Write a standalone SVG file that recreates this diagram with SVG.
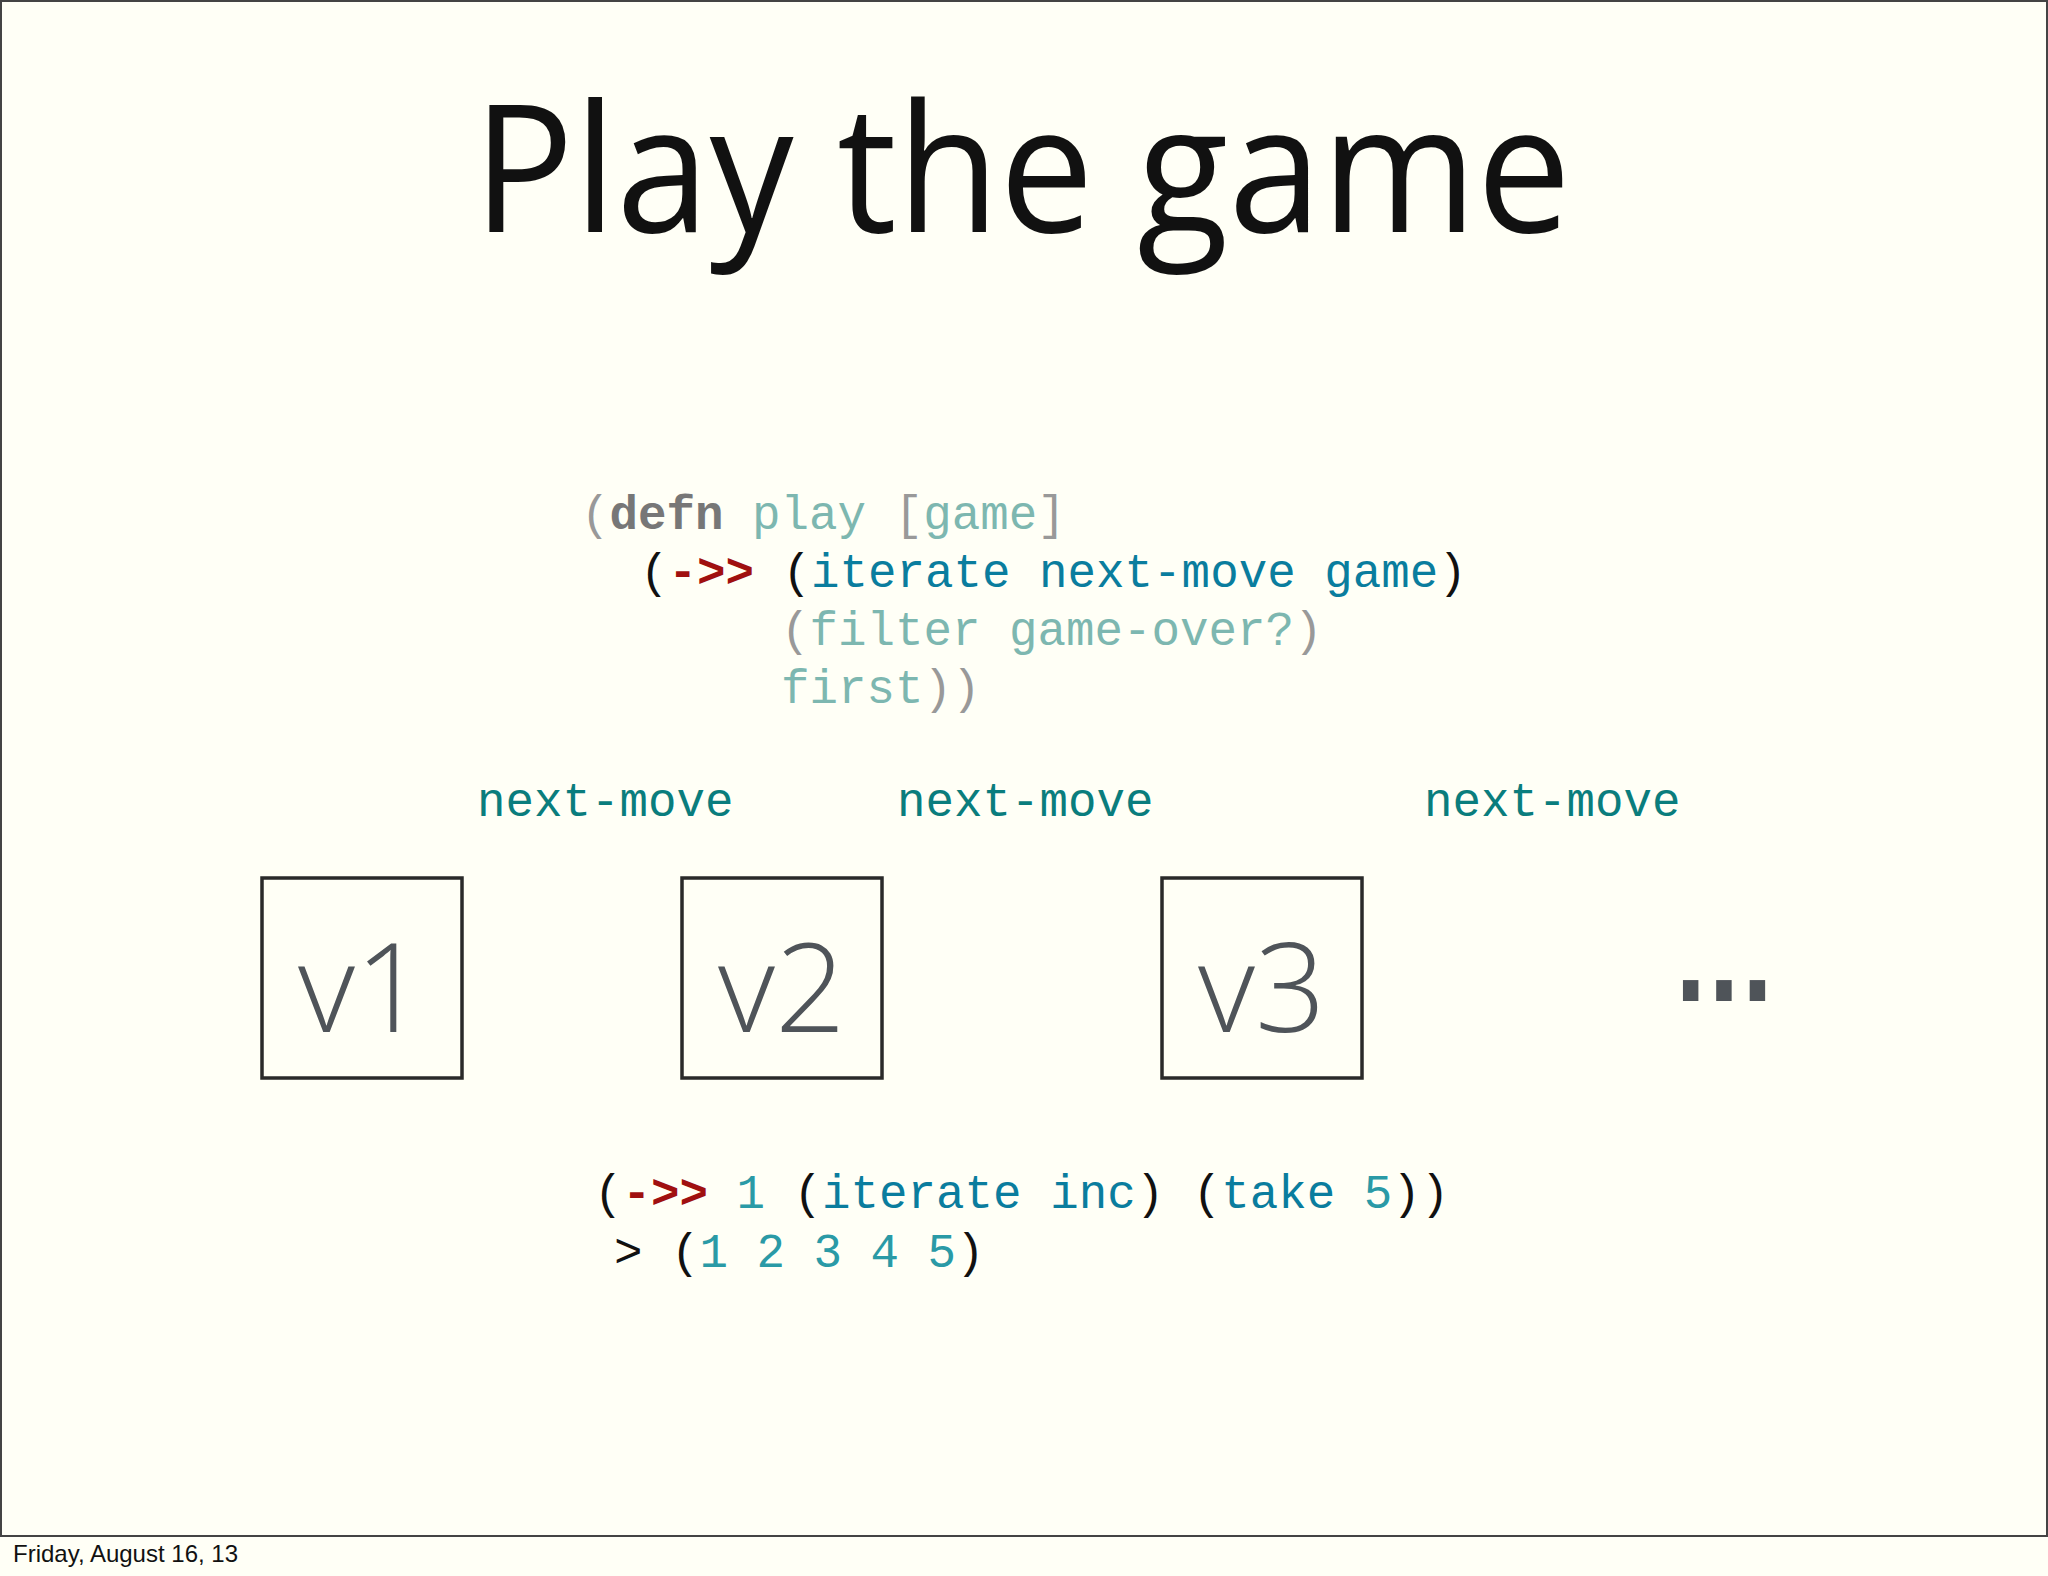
<svg xmlns="http://www.w3.org/2000/svg" width="2048" height="1576" viewBox="0 0 2048 1576">
<style>
.code{font-family:"Liberation Mono","DejaVu Sans Mono",monospace;font-size:47.5px;white-space:pre}
.par{fill:#111}
.gp{fill:#999}
.kw{fill:#777;font-weight:bold}
.lt{fill:#7db7b0}
.bl{fill:#0a7d9e}
.rd{fill:#a01010;font-weight:bold}
.nm{fill:#2a9aa6}
.lbl{font-family:"Liberation Mono","DejaVu Sans Mono",monospace;font-size:47.5px;fill:#0a7d7d}
.box rect{fill:none;stroke:#2a2a2a;stroke-width:3.5}
.box text{font-family:"Open Sans","DejaVu Sans",sans-serif;font-weight:300;font-size:124px;fill:#4f5459;text-anchor:middle}
</style>
<rect width="2048" height="1576" fill="#fffff6"/>
<rect x="1" y="1" width="2046" height="1535" fill="none" stroke="#444" stroke-width="2"/>
<text x="473" y="232" font-family="Open Sans, DejaVu Sans, sans-serif" font-size="178" textLength="1098" lengthAdjust="spacingAndGlyphs" fill="#111">Play the game</text>
<g id="code1" class="code">
<text x="581" y="529"><tspan class="gp">(</tspan><tspan class="kw">defn</tspan> <tspan class="lt">play</tspan> <tspan class="gp">[</tspan><tspan class="lt">game</tspan><tspan class="gp">]</tspan></text>
<text x="640" y="587"><tspan class="par">(</tspan><tspan class="rd">-&gt;&gt;</tspan> <tspan class="par">(</tspan><tspan class="bl">iterate next-move game</tspan><tspan class="par">)</tspan></text>
<text x="781" y="645"><tspan class="gp">(</tspan><tspan class="lt">filter game-over?</tspan><tspan class="gp">)</tspan></text>
<text x="781" y="703"><tspan class="lt">first</tspan><tspan class="gp">))</tspan></text>
</g>
<g id="labels">
<text class="lbl" x="477" y="816">next-move</text>
<text class="lbl" x="897" y="816">next-move</text>
<text class="lbl" x="1424" y="816">next-move</text>
</g>
<g id="v1" class="box"><rect x="262" y="878" width="200" height="200"/><text x="362" y="1032">v1</text></g>
<g id="v2" class="box"><rect x="682" y="878" width="200" height="200"/><text x="782" y="1032">v2</text></g>
<g id="v3" class="box"><rect x="1162" y="878" width="200" height="200"/><text x="1262" y="1032">v3</text></g>
<g id="ellipsis"><text x="1674" y="1001" font-family="DejaVu Sans, sans-serif" font-weight="bold" font-size="110" fill="#4f5459" textLength="100" lengthAdjust="spacingAndGlyphs">...</text></g>
<g id="connectors"></g>
<g id="code2" class="code">
<text x="594" y="1208"><tspan class="par">(</tspan><tspan class="rd">-&gt;&gt;</tspan> <tspan class="nm">1</tspan> <tspan class="par">(</tspan><tspan class="bl">iterate inc</tspan><tspan class="par">)</tspan> <tspan class="par">(</tspan><tspan class="bl">take</tspan> <tspan class="nm">5</tspan><tspan class="par">))</tspan></text>
<text x="614" y="1267"><tspan class="par">&gt; (</tspan><tspan class="nm">1 2 3 4 5</tspan><tspan class="par">)</tspan></text>
</g>
<text x="13" y="1562" font-family="Liberation Sans, Arial, sans-serif" font-size="24" fill="#111">Friday, August 16, 13</text>
</svg>
